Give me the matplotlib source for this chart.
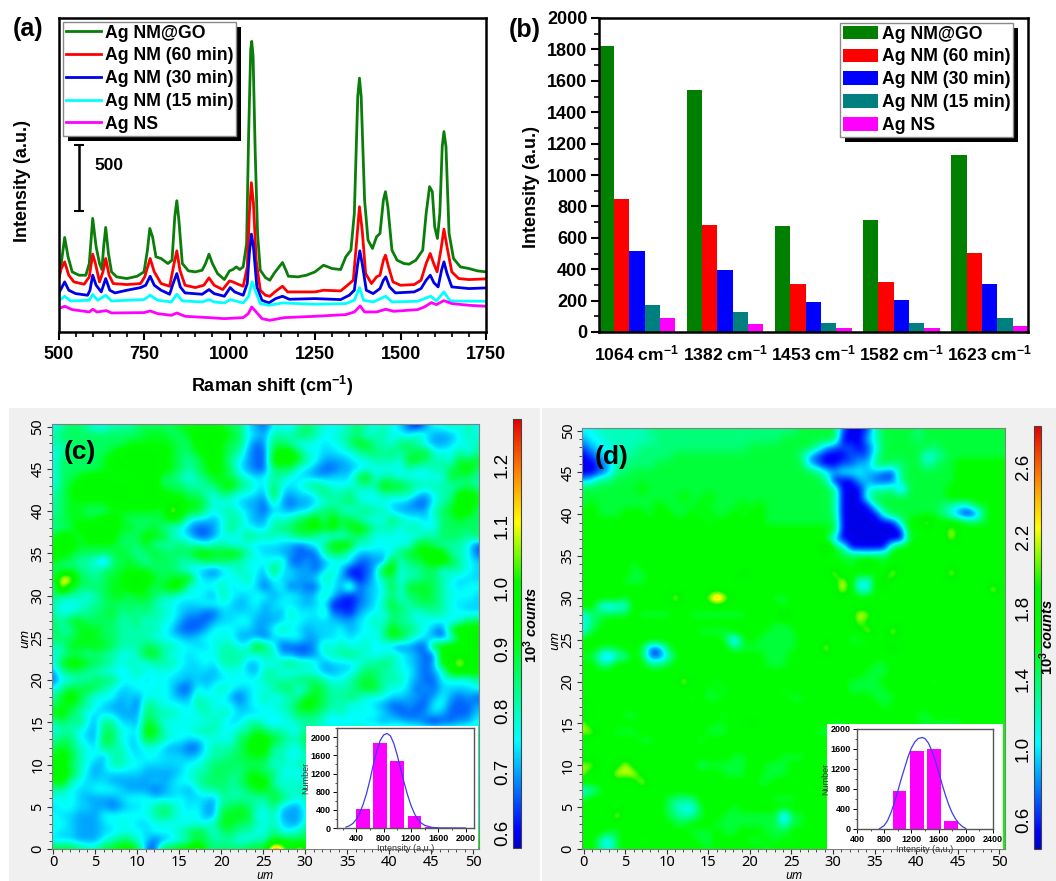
import numpy as np
import matplotlib
matplotlib.use('Agg')
import matplotlib.pyplot as plt
from matplotlib.colors import LinearSegmentedColormap, Normalize
from matplotlib.patches import Rectangle
from matplotlib.ticker import MultipleLocator
from matplotlib.transforms import IdentityTransform

W, H = 1056, 881
plt.rcParams.update({'font.family': 'Liberation Sans', 'font.weight': 'bold', 'mathtext.fontset': 'custom',
                     'mathtext.rm': 'Liberation Sans:bold', 'mathtext.bf': 'Liberation Sans:bold',
                     'mathtext.it': 'Liberation Sans:italic:bold', 'mathtext.default': 'bf'})

series_names = ['Ag NM@GO', 'Ag NM (60 min)', 'Ag NM (30 min)', 'Ag NM (15 min)', 'Ag NS']
line_colors = ['#0a7d0a', '#ff0000', '#0000e6', '#00ffff', '#ff00ff']
bar_colors = ['#007f00', '#ff0000', '#0000ff', '#007f7f', '#ff00ff']
AU = 2.5  # intensity units per height step

green_x = [500,508,518,528,540,560,580,590,600,610,620,627,632,638,646,655,670,700,730,750,760,767,775,785,800,820,832,840,846,852,862,880,900,920,930,940,950,965,985,1000,1010,1020,1030,1040,1050,1056,1062,1065,1069,1075,1082,1090,1105,1118,1130,1145,1155,1165,1172,1200,1225,1250,1275,1300,1325,1340,1355,1365,1375,1380,1385,1395,1405,1418,1430,1440,1450,1456,1463,1475,1490,1510,1525,1545,1565,1575,1585,1593,1600,1608,1615,1622,1627,1633,1642,1655,1675,1700,1725,1750]
green_y = [175,205,283,225,180,170,170,205,340,255,205,187,255,313,235,180,165,160,167,180,245,310,285,225,220,205,215,345,393,335,205,183,180,185,205,233,205,175,157,183,187,195,187,195,265,595,845,870,825,545,295,185,163,155,175,195,208,185,167,165,170,180,200,190,187,225,245,355,705,760,705,395,275,250,285,295,395,420,375,245,215,205,203,215,245,355,435,420,315,280,355,555,600,555,295,220,195,190,183,180]
red_x = [500,508,518,530,545,575,590,600,608,620,630,638,648,660,700,740,752,768,780,800,825,838,846,855,870,900,925,940,955,980,1000,1010,1025,1040,1052,1058,1064,1070,1078,1090,1105,1118,1135,1155,1170,1200,1250,1275,1325,1345,1362,1372,1380,1388,1398,1415,1430,1440,1450,1456,1465,1478,1500,1540,1560,1575,1587,1597,1607,1618,1627,1636,1650,1670,1700,1750]
red_y = [157,190,210,170,150,143,165,233,205,150,180,220,170,145,142,145,165,220,180,145,137,205,243,185,140,133,140,162,140,127,153,150,143,137,195,355,447,385,215,125,110,107,122,137,120,120,120,125,123,140,155,275,375,305,175,145,165,170,215,230,195,150,140,142,155,205,235,205,180,245,308,255,180,160,157,159]
blue_x = [500,508,518,530,550,585,592,600,610,625,638,650,665,700,740,755,768,780,800,825,835,846,856,870,920,940,955,985,1002,1015,1040,1052,1058,1064,1070,1080,1095,1115,1135,1155,1175,1250,1325,1350,1365,1375,1381,1388,1400,1420,1440,1450,1457,1468,1485,1540,1560,1575,1587,1598,1610,1620,1627,1636,1650,1700,1750]
blue_y = [115,130,150,125,115,110,125,170,140,120,160,125,117,125,133,140,167,140,125,113,145,175,135,117,113,127,115,107,133,120,110,145,235,293,255,135,95,87,100,107,98,100,97,110,125,205,243,205,125,115,130,155,165,135,117,120,130,155,170,147,135,185,210,175,135,130,132]
cyan_x = [500,518,535,590,600,615,638,655,750,768,790,830,846,862,920,940,955,985,1002,1040,1055,1066,1075,1090,1115,1155,1250,1340,1365,1380,1392,1420,1457,1475,1550,1588,1605,1627,1645,1750]
cyan_y = [93,107,93,95,112,95,110,93,97,110,95,90,113,93,90,97,90,87,97,87,105,150,125,85,80,87,83,85,95,133,95,90,107,90,92,107,93,120,93,92]
mag_x = [500,518,540,590,600,612,640,655,750,768,790,830,846,870,940,985,1040,1055,1065,1078,1095,1118,1160,1250,1340,1365,1382,1395,1430,1457,1480,1550,1570,1590,1605,1627,1650,1700,1750]
mag_y = [70,77,67,60,68,60,64,57,58,63,55,50,57,47,43,40,43,55,75,60,40,35,43,47,52,60,78,60,60,68,62,67,75,88,82,94,85,80,77]
scale_bar = [362, 560]

band_labels = ['1064', '1382', '1453', '1582', '1623']
band_values = [[1820, 1540, 675, 715, 1130], [850, 680, 305, 320, 505], [515, 395, 190, 205, 305],
               [170, 125, 55, 55, 88], [90, 50, 25, 25, 40]]

# map readings, 1 um per character, y = 50 at the first row; each character is a colour level
levels_c = {'0': .61, '1': .66, '2': .70, '3': .73, '4': .76, '5': .81, '6': .86, '7': .91, '8': .96, '9': 1.0, 'a': 1.15, 'b': 1.26}
rows_c_left = [
'45665445556666677888766321', '56666666666777667888876432', '55666666677777766888766312',
'45666667888888766788765211', '46666678888887765678754211', '46666677888888765678763211',
'46678887778886654567765434', '46788888887886665556786543', '56788888888888776654654432',
'56777778888888887764443221', '56776667777776a87754554321', '66777788766667774332455322',
'56688888776675542112464433', '78868888666877543112444655', '78877777666755565545544433',
'88766666765676666887787543', '76655416676566655566655444', '66665566777766654321345442',
'6aa66567788876778433444532', '5a766667788767884444534431', '65554567767765544432543344',
'54445566666654433344432342', '54455667565655432211333332', '65776666556454421112334422',
'65577766555554311124443322', '66677766555544332344442221', '55777776555665544334554486',
'45665655445775443444555545', '47887665454455543343555234', '25665544345444433332444325',
'14455666444344332323344445', '45767654334444311434543344', '57875444232444322544421345',
'67765432231654443554442344', '78654333222655544454543334', '56564265332764444445433554',
'45543266443875444555445576', '56643276433765443344446788', '67654365533443221145556788',
'78754425543443332345566777', '88654235544333334456666666', '88753233333222234556665776',
'78543332222232344566656788', '55433444322212332455655677', '44432222344433343332555555',
'34433221233456543422667654', '43322244444456544422777744', '44322234443344444445776654',
'43322233444344456764665544', '33322245664312345665554455', '77765577887117788a66666777',
]
rows_c_right = [
'4435654445654543102445454', '5556654455645544354222454', '6654443446775546653223445',
'7886443344566565667444545', '8887542223445554776554767', '6664321122344444544556786',
'5543322333684554444447665', '6434565444555877655555565', '7323346556444555532455887',
'5212234556544433211456887', '3323356654565532222567886', '5456785867544465443466766',
'5667787867875554554466666', '5456654445654444445566656', '3321245888454444477655541',
'3221115664323346778885541', '4511212344112184667887543', '7332213530012884556645543',
'4332235421013564556654333', '3412114426123474777654344', '2343235310123464667654443',
'3433234000123575566654333', '3253435110234466545554433', '2344333322345465544443466',
'4543233342344586654217988', '3344223343444577543213789', '4111125454453421211788888',
'5221124556544454321188888', '4565542333455654321288a88', '5444442233566554421248888',
'5556665445676555321144445', '5664576555677544312133334', '4455776556544433221242121',
'4557876554443211211441112', '4456665454444321112321113', '3445554333433233221011224',
'5544655555555555555555555', '7655755555555555555555555', '5544655555555555555555555',
'5544555555555555555555555', '4545555555555555555555555', '6444444444444444444444444',
'5454555555555555555555555', '6545555555555555555555555', '7654555555555555555555555',
'6322555555555555555555555', '5222444444444444444444444', '5322555555555555555555555',
'6445666666666666666666666', '7776777777777777777777777', 'ba7a877777777777777777777',
]

levels_d = {'0': .5, '1': .7, '2': .9, '3': 1.05, '4': 1.2, '5': 1.35, '6': 1.5, '7': 1.7, '8': 1.85, '9': 2.15, 'a': 2.35, 'b': 2.8}
rows_d = [
'3344444455 5555555555 5555556666 6100146666 5666666666 6',
'2334444445 5555555555 5555666666 6000246666 5666666666 6',
'1233444555 5555555555 6666666642 1110136666 6656666666 6',
'0123445555 5666666666 6666665210 0011146666 6345666666 6',
'0012455556 6666666666 6666666210 0112256556 6456677777 7',
'0012556666 6666666666 6666666653 2333221156 6666677777 7',
'2355666666 6666666666 6666666665 0002211156 6666677777 7',
'6666666766 6666666666 6666666666 5000344516 6666777777 7',
'6666666666 6676676666 6666666666 5000466666 6666777777 7',
'6766666667 6666766667 6766666666 5000046666 6665433667 7',
'7766677767 7667676676 7766666666 5000004666 6665310167 7',
'7777777777 7777767777 7766666666 6000000047 7a77776667 7',
'7777777777 7777777777 7777777777 6000000007 6777a77777 7',
'7777777777 7777777777 7777777776 2000000006 7777977777 7',
'7777777777 7777777777 777777777a 6500000677 7777777777 7',
'7777777777 7777777777 7777777777 7666566777 7777777777 7',
'7777776777 7777777776 7777777777 6767976777 7777777777 7',
'7777776677 7777777779 7777777777 a677767a77 7777a77777 7',
'7777766677 7777777777 7777777777 7a73379777 7777777777 7',
'7777777777 7777777777 7777777777 7a73377777 777777777a 7',
'7777767777 7a7779b977 7776677777 7777776777 7777777777 7',
'7732337777 7777777777 7777677777 7777777777 7777777777 7',
'3566667666 6776666666 7777a77777 777a977777 7777777777 7',
'3567777777 7777777777 7776677777 7779777777 7777777777 7',
'3677777777 7777666677 7766667777 7777a77a77 7777777777 7',
'7777777777 7777777616 7666667777 7766677777 7777777777 7',
'7766677611 5777777756 666666777a 7777777977 7777777777 7',
'6631447611 3677777777 7766677777 7777777777 7777777777 7',
'7755777755 6777777777 7766677777 7777766777 7777777777 7',
'7777777777 7777777777 7777777777 7777666777 7777777777 7',
'7777777777 77a7776777 7777777777 7766667777 7767777777 7',
'7777777777 7777767677 7777677777 7766666777 7777777777 7',
'7777777777 7776766777 7777766777 7777766677 7777777777 7',
'9777777777 7777777777 7777777777 7777776777 7777777777 7',
'7777766777 7777777677 7777777777 7777777777 6677777777 7',
'9777777777 7777776777 9777777777 6677777777 7666667777 7',
'9977666777 7777766677 6777777766 6777777776 6676677777 7',
'7777777667 7777677777 7777777777 7777777777 7777777777 7',
'7777777777 7777777777 7777777777 7777777777 7777777777 7',
'7777777777 7777777766 7777666777 7777777777 7777777777 7',
'99777a7777 7777566666 7766677777 7777777777 7777777777 7',
'9777a9a777 7777777666 7766677777 7777777777 7777777777 7',
'7777777a77 7777777777 7667777777 7777777777 7777777777 7',
'3467777777 7777777777 7777777677 7777777777 7777777777 7',
'6777777777 6555777777 7776667777 7777777777 7777777777 7',
'7777777777 6433677767 7777777777 7777777777 7777777777 7',
'7777a77777 6544677666 6666166777 7777777777 7777777777 7',
'7777777777 7667776666 6666366777 7777777777 7777777777 7',
'7776677777 7776667667 7766677777 7777777777 7777777777 7',
'7742677677 7777667777 6676767777 7777777777 7777777777 7',
'7753677777 7777767777 7767777777 7777777777 7777777777 7',
]

hist_c_centers = [500, 750, 1000, 1250, 1500]
hist_c_counts = [420, 1870, 1480, 270, 30]
fit_c_x = [250,300,350,400,450,500,550,600,650,700,750,800,850,900,950,1000,1050,1100,1150,1200,1250,1300,1350,1400,1500,1600,2000]
fit_c_y = [20,50,100,190,330,520,760,1060,1400,1700,1930,2050,2085,2030,1860,1600,1300,1000,730,500,320,190,110,60,15,3,0]
hist_d_centers = [1025, 1280, 1530, 1780]
hist_d_counts = [770, 1560, 1610, 170]
fit_d_x = [730,800,850,900,950,1000,1050,1100,1150,1200,1250,1300,1360,1400,1450,1500,1550,1600,1650,1700,1750,1800,1850,1900,1950,2000]
fit_d_y = [5,70,170,330,530,760,1000,1220,1440,1620,1740,1810,1830,1810,1720,1570,1370,1150,900,680,480,320,200,110,50,10]

rainbow = LinearSegmentedColormap.from_list('map', [(0, '#0000c8'), (0.04, '#0000ff'), (0.25, '#00ffff'), (0.5, '#00ff00'),
                                                    (0.62, '#00f800'), (0.76, '#ffff00'), (0.88, '#ff8000'), (1, '#e60000')])


def decode(rows, levels):
    rows = [r.replace(' ', '') for r in rows]
    rows = [(r + r[-1] * 51)[:51] for r in rows]
    return np.array([[levels[ch] for ch in r] for r in rows])


rows_c = [(l + l[-1] * 26)[:26] + (r + r[-1] * 25)[:25] for l, r in zip(rows_c_left, rows_c_right)]

fig = plt.figure(figsize=(W / 100, H / 100), dpi=100, facecolor='white')


def box(l, t, r, b):
    return [l / W, 1 - b / H, (r - l) / W, (b - t) / H]


def label(x, y, s, **kw):
    return fig.text(x / W, 1 - y / H, s, ha=kw.pop('ha', 'center'), va=kw.pop('va', 'center'), **kw)


def framed_legend(ax, handles, l, t, shadow=5):
    leg = ax.legend(handles=handles, loc='upper left', bbox_to_anchor=(l / W, 1 - t / H), bbox_transform=fig.transFigure,
                    fontsize=12.7, frameon=True, fancybox=False, framealpha=1, edgecolor='#8a8a8a', borderaxespad=0,
                    borderpad=0.15, labelspacing=0.33, handlelength=2.0, handletextpad=0.22, handleheight=0.8)
    leg.get_frame().set_linewidth(1)
    fig.canvas.draw()
    bb = leg.get_frame().get_window_extent()
    ax.add_patch(Rectangle((bb.x0 + shadow, bb.y0 - shadow), bb.width, bb.height, transform=IdentityTransform(),
                           facecolor='black', edgecolor='none', zorder=4.5, clip_on=False))


# panel (a)
ax = fig.add_axes(box(58.5, 18, 486, 332))
xs = [green_x, red_x, blue_x, cyan_x, mag_x]
ys = [green_y, red_y, blue_y, cyan_y, mag_y]
lines = []
for x, y, c, n in zip(xs, ys, line_colors, series_names):
    lines += ax.plot(x, np.array(y) * AU, color=c, lw=2.0, label=n, solid_joinstyle='round')
ax.set_xlim(500, 1750)
ax.set_ylim(0, 2350)
ax.set_yticks([])
ax.xaxis.set_major_locator(MultipleLocator(250))
ax.xaxis.set_minor_locator(MultipleLocator(50))
ax.tick_params(axis='x', which='major', length=6, width=1.5, labelsize=13, pad=4)
ax.tick_params(axis='x', which='minor', length=3.5, width=1.2)
for s in ax.spines.values():
    s.set_linewidth(1.8)
ax.errorbar([560], [np.mean(scale_bar) * AU], yerr=[(scale_bar[1] - scale_bar[0]) / 2 * AU], color='black', lw=1.8, capsize=3.5, capthick=1.5)
label(94, 166, '500', ha='left', fontsize=12.5)
framed_legend(ax, lines, 63, 22)
label(272, 386, 'Raman shift (cm$^{-1}$)', fontsize=13)
label(23, 181, 'Intensity (a.u.)', rotation=90, fontsize=13)
label(28, 29, '(a)', fontsize=18)

# panel (b)
ax = fig.add_axes(box(598.5, 18, 1028, 332))
bw = 0.174
pos = np.arange(len(band_labels))
bars = []
for i, (v, c, n) in enumerate(zip(band_values, bar_colors, series_names)):
    bars.append(ax.bar(pos + (i - 2) * bw, v, bw, color=c, label=n))
ax.set_xlim(-0.435, 4.435)
ax.set_ylim(0, 2000)
ax.set_xticks(pos, [f'{b} cm$^{{-1}}$' for b in band_labels])
ax.yaxis.set_major_locator(MultipleLocator(200))
ax.yaxis.set_minor_locator(MultipleLocator(100))
ax.tick_params(axis='y', which='major', length=6, width=1.5, labelsize=13, pad=2)
ax.tick_params(axis='y', which='minor', length=3.5, width=1.2)
ax.tick_params(axis='x', length=0, labelsize=12.6, pad=8)
for s in ax.spines.values():
    s.set_linewidth(1.8)
framed_legend(ax, bars, 840, 23)
label(531, 187, 'Intensity (a.u.)', rotation=90, fontsize=13)
label(525, 30, '(b)', fontsize=18)


# panels (c), (d)
def map_panel(grid, vmin, vmax, cticks, frame, bar, bg, tag, tagxy, count_xy):
    fig.add_artist(Rectangle((bg[0] / W, 1 - bg[3] / H), (bg[2] - bg[0]) / W, (bg[3] - bg[1]) / H, transform=fig.transFigure,
                             facecolor='#f0f0f0', edgecolor='none', zorder=-5))
    ax = fig.add_axes(box(*frame))
    norm = Normalize(vmin, vmax)
    im = ax.imshow(grid, extent=(-0.5, 50.8, -0.5, 50.5), origin='upper', cmap=rainbow, norm=norm, interpolation='bicubic', aspect='auto')
    ax.set_xlim(-0.2, 50.7)
    ax.set_ylim(0, 50.3)
    ax.xaxis.set_major_locator(MultipleLocator(5))
    ax.yaxis.set_major_locator(MultipleLocator(5))
    ax.xaxis.set_minor_locator(MultipleLocator(1))
    ax.yaxis.set_minor_locator(MultipleLocator(1))
    ax.tick_params(which='major', length=3.5, width=0.8, color='#333333', labelsize=10.5, pad=1)
    ax.tick_params(which='minor', length=2, width=0.6, color='#333333')
    for t in ax.get_xticklabels() + ax.get_yticklabels():
        t.set_fontfamily('Noto Sans')
        t.set_fontweight('normal')
    for t in ax.get_yticklabels():
        t.set_rotation(90)
        t.set_va('center')
    for s in ax.spines.values():
        s.set_color('#808080')
        s.set_linewidth(0.8)
    cx = (frame[0] + frame[2]) / 2
    label(cx, 875.5, 'um', fontsize=8.5, fontstyle='italic', fontweight='normal', fontfamily='Noto Sans')
    label(frame[0] - 27, (frame[1] + frame[3]) / 2 + 2, 'um', rotation=90, fontsize=9.5, fontstyle='italic', fontweight='normal', fontfamily='Noto Sans')
    cax = fig.add_axes(box(*bar))
    cb = fig.colorbar(im, cax=cax, ticks=cticks)
    cax.yaxis.set_ticks_position('left')
    cax.tick_params(length=0, labelsize=13.5, pad=1.5)
    for t in cax.get_yticklabels():
        t.set_rotation(90)
        t.set_va('center')
        t.set_fontweight('normal')
    cb.outline.set_edgecolor('#444444')
    cb.outline.set_linewidth(0.8)
    label(count_xy[0], count_xy[1], '$10^{3}$ counts', rotation=90, fontsize=10.5, fontstyle='italic')
    label(tagxy[0], tagxy[1], tag, fontsize=19, ha='left')


def inset(white, frame, centers, counts, bw, fx, fy, xlim, ylim, xt, yt):
    fig.add_artist(Rectangle((white[0] / W, 1 - white[3] / H), (white[2] - white[0]) / W, (white[3] - white[1]) / H,
                             transform=fig.transFigure, facecolor='white', edgecolor='none', zorder=3))
    a = fig.add_axes(box(*frame), zorder=4)
    a.bar(centers, counts, bw, color='#ff00ff')
    a.plot(fx, fy, color='#3c3cf0', lw=0.9)
    a.set_xlim(*xlim)
    a.set_ylim(*ylim)
    a.set_xticks(xt)
    a.set_yticks(yt)
    a.xaxis.set_minor_locator(MultipleLocator(200))
    a.yaxis.set_minor_locator(MultipleLocator(200))
    a.tick_params(which='major', length=3, width=0.7, labelsize=6.5, pad=1.5)
    a.tick_params(which='minor', length=1.5, width=0.5)
    for s in a.spines.values():
        s.set_color('#555555')
        s.set_linewidth(1)
    a.set_xlabel('Intensity (a.u.)', fontsize=6.5, labelpad=0.5, color='#333333')
    a.set_ylabel('Number', fontsize=6.5, color='#333333')
    a.yaxis.set_label_coords(-27 / (frame[2] - frame[0]), 0.5)


map_panel(decode(rows_c, levels_c), 0.576, 1.275, [0.6, 0.7, 0.8, 0.9, 1.0, 1.1, 1.2], (51.7, 424, 479, 849), (513, 419, 521, 848), (9, 408, 540, 881), '(c)', (64, 452), (531, 625))
map_panel(decode(rows_d, levels_d), 0.436, 2.83, [0.6, 1.0, 1.4, 1.8, 2.2, 2.6], (582, 428, 1005, 849), (1034, 426, 1041, 849), (542, 408, 1056, 881), '(d)', (595, 457), (1047, 637))
inset((306, 726, 478, 849), (337, 728, 474, 828), hist_c_centers, hist_c_counts, 200, fit_c_x, fit_c_y, (118, 2122), (0, 2204), [400, 800, 1200, 1600, 2000], [0, 400, 800, 1200, 1600, 2000])
inset((827, 724, 1003, 849), (857, 729, 993, 829), hist_d_centers, hist_d_counts, 205, fit_d_x, fit_d_y, (400, 2400), (0, 2000), [400, 800, 1200, 1600, 2000, 2400], [0, 400, 800, 1200, 1600, 2000])

fig.savefig('out.png', dpi=100)
